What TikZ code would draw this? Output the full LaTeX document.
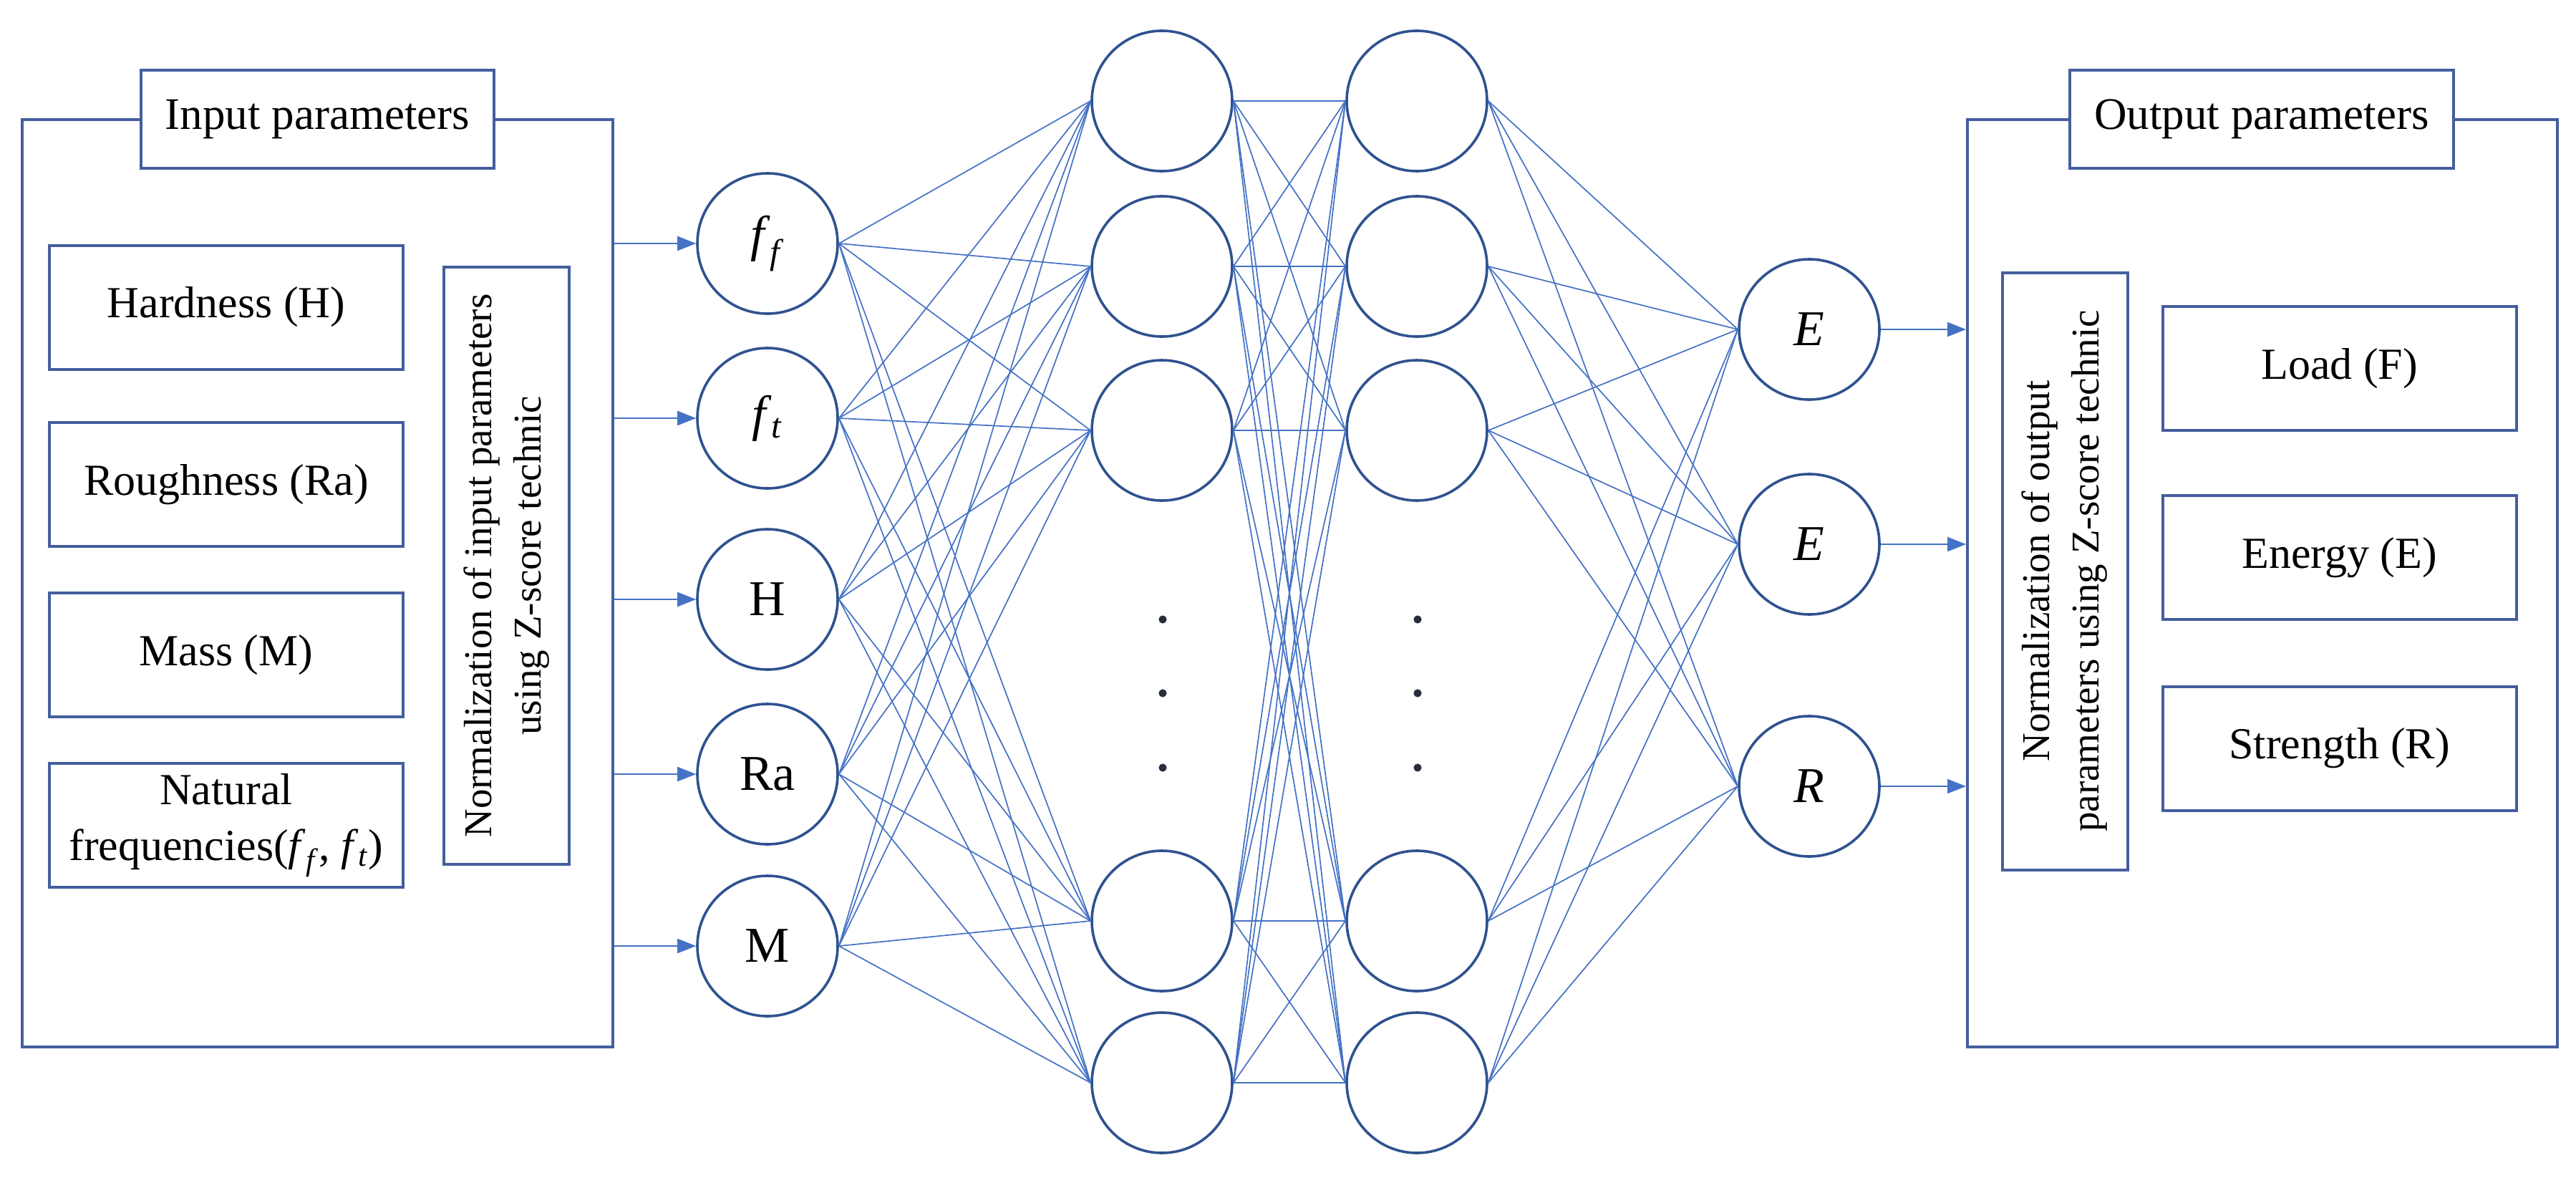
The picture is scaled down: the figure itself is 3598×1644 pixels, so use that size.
\documentclass[tikz,border=0pt]{standalone}
\usepackage{fontspec}
\setmainfont{Liberation Serif}
\usetikzlibrary{arrows.meta}
\definecolor{nodeblue}{RGB}{47,82,143}
\definecolor{boxblue}{RGB}{68,94,158}
\definecolor{linkblue}{RGB}{68,114,196}
\definecolor{dotgray}{RGB}{40,45,60}
\begin{document}
\begin{tikzpicture}[x=0.5pt,y=-0.5pt,
  neuron/.style={circle,draw=nodeblue,line width=1.8pt,minimum size=98pt,inner sep=0pt,fill=white,font=\fontsize{35}{42}\selectfont},
  pbox/.style={draw=boxblue,line width=2pt,fill=white,minimum width=247pt,minimum height=86.5pt,inner sep=0pt,align=center,font=\fontsize{31}{39}\selectfont},
  outer/.style={draw=boxblue,line width=2pt,inner sep=0pt},
  header/.style={draw=boxblue,line width=2pt,fill=white,minimum height=68.5pt,inner sep=0pt,font=\fontsize{31.5}{38}\selectfont},
  normbox/.style={draw=boxblue,line width=2pt,fill=white,rotate=90,minimum width=417pt,minimum height=87.5pt,inner sep=0pt,align=center,font=\fontsize{27.5}{34.5}\selectfont},
  link/.style={draw=linkblue,line width=0.85pt},
  arr/.style={draw=linkblue,line width=1pt,-{Triangle[length=13pt,width=10pt]}},
  ndot/.style={fill=dotgray}
]
\useasboundingbox (0,0) rectangle (3598,1644);

% outer boxes
\node[outer,minimum width=412.5pt,minimum height=647.5pt] (inbox) at (443.5,814.5) {};
\node[outer,minimum width=412pt,minimum height=647.5pt] (outbox) at (3160,814.5) {};

% headers
\node[header,minimum width=246.5pt] (inhead) at (443.5,166.5) {Input parameters};
\node[header,minimum width=268pt] (outhead) at (3159,166.5) {Output parameters};

% input parameter boxes
\node[pbox] (hard) at (316,429) {Hardness (H)};
\node[pbox] (rough) at (316,676.5) {Roughness (Ra)};
\node[pbox] (mass) at (316,914.5) {Mass (M)};
\node[pbox] (nat) at (316,1152.5) {Natural\\frequencies(\textit{f}\textsubscript{\textit{f}}, \textit{f}\textsubscript{\textit{t}})};
\node[normbox] (innorm) at (707.5,790) {Normalization of input parameters\\using Z-score technic};

% output parameter boxes
\node[normbox] (outnorm) at (2884,797.5) {Normalization of output\\parameters using Z-score technic};
\node[pbox] (load) at (3267.5,514.5) {Load (F)};
\node[pbox] (energy) at (3267.5,778.5) {Energy (E)};
\node[pbox] (strength) at (3267.5,1045) {Strength (R)};

% neurons
\node[neuron] (in1) at (1072,340) {\textit{f}\textsubscript{\textit{f}}};
\node[neuron] (in2) at (1072,584) {\textit{f}\textsubscript{\textit{t}}};
\node[neuron] (in3) at (1072,837) {H};
\node[neuron] (in4) at (1072,1081) {Ra};
\node[neuron] (in5) at (1072,1321) {M};

\foreach \i/\y in {1/141,2/372,3/601,4/1286,5/1512}{
  \node[neuron] (ha\i) at (1623,\y) {};
  \node[neuron] (hb\i) at (1979,\y) {};
}

\node[neuron] (out1) at (2527,460) {\textit{E}};
\node[neuron] (out2) at (2527,760) {\textit{E}};
\node[neuron] (out3) at (2527,1098) {\textit{R}};

% connections
\foreach \i in {1,...,5}{
  \foreach \j in {1,...,5}{
    \draw[link] (in\i.east) -- (ha\j.west);
    \draw[link] (ha\i.east) -- (hb\j.west);
  }
  \foreach \k in {1,2,3}{
    \draw[link] (hb\i.east) -- (out\k.west);
  }
}

% ellipsis dots
\foreach \y in {865,968,1072}{
  \fill[ndot] (1624,\y) circle (2.8pt);
  \fill[ndot] (1980,\y) circle (2.8pt);
}

% arrows
\foreach \i in {1,...,5}{
  \draw[arr] (in\i.west -| inbox.east) -- (in\i.west);
}
\foreach \k in {1,2,3}{
  \draw[arr] (out\k.east) -- (out\k.east -| outbox.west);
}
\end{tikzpicture}
\end{document}
